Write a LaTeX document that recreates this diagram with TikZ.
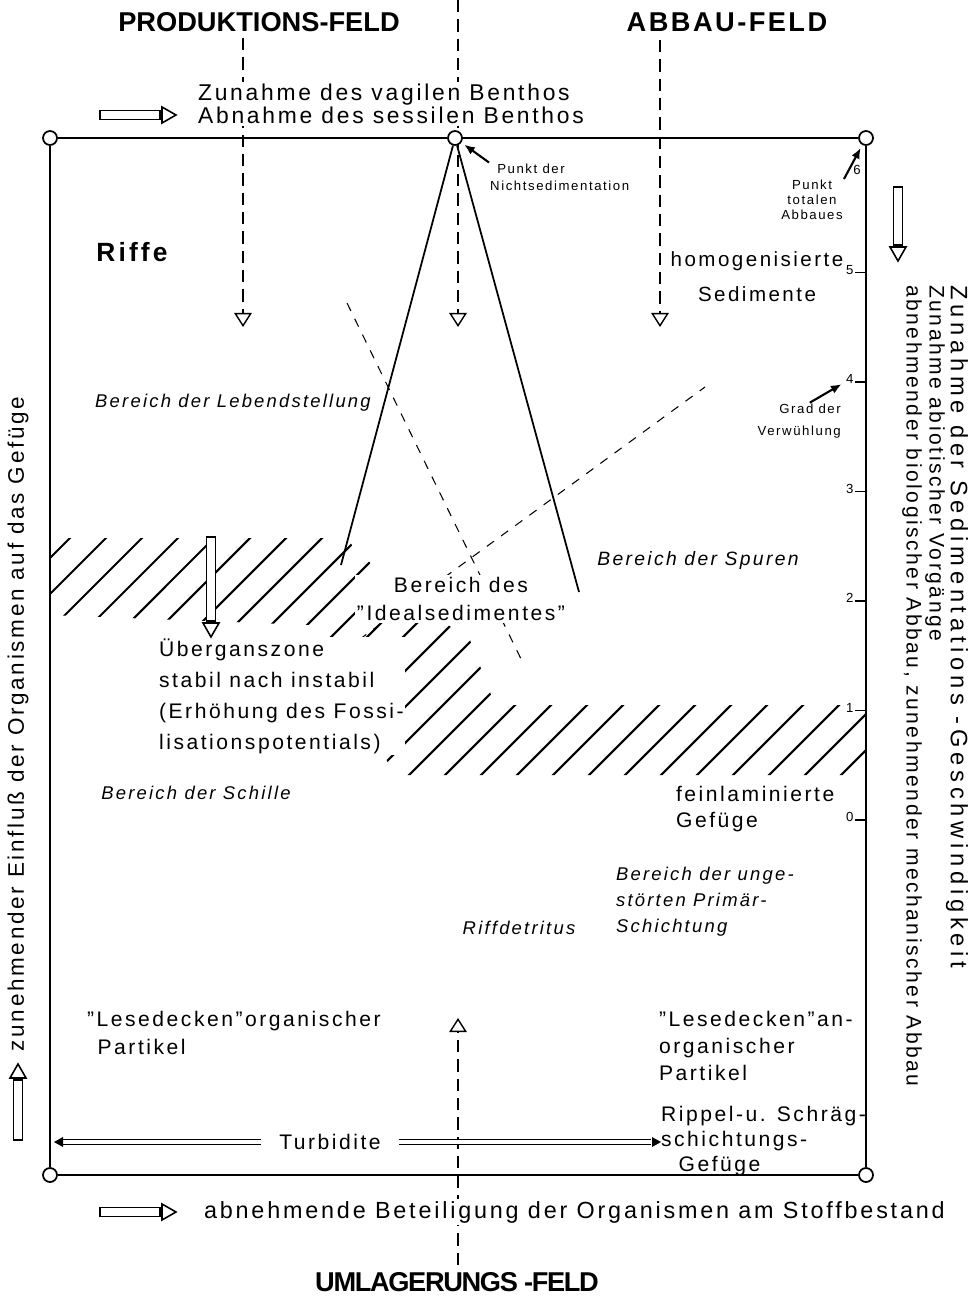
\documentclass[tikz,border=0pt]{standalone}
\usepackage{fontspec}
\setmainfont{Liberation Sans}[LetterSpace=12]
\newfontfamily\headfont{Liberation Sans}
\usetikzlibrary{positioning, arrows.meta}

\begin{document}
\begin{tikzpicture}[x=0.02cm, y=-0.02cm,
    > = {Latex[length=6pt, width=5pt]},
    corner/.style={draw, circle, fill=white, line width=1pt, minimum size=0.28cm, inner sep=0pt},
    frame/.style={line width=1.3pt},
    flow/.style={dash pattern=on 7pt off 4pt, line width=0.8pt,
        -{Triangle[open, length=8pt, width=10pt, line width=0.8pt]}},
    guide/.style={dash pattern=on 5pt off 5pt, line width=0.6pt},
    hatch/.style={line width=1.2pt},
    ptr/.style={line width=1.2pt, ->, shorten >=2pt},
    dbl/.style={double, double distance=2.2pt, line width=0.7pt},
    lbl/.style={font=\fontsize{12}{#1}\selectfont, align=left, fill=white, inner sep=1pt},
    lbl/.default=16,
    itlbl/.style={font=\fontsize{10.5}{#1}\selectfont\itshape, align=left, fill=white, inner sep=1pt},
    itlbl/.default=14.7,
    smalllbl/.style={font=\fontsize{7.5}{#1}\selectfont, align=center, inner sep=0.5pt},
    smalllbl/.default=8.5,
    head/.style={font=\headfont\fontsize{15.5}{18}\selectfont\bfseries\addfontfeatures{LetterSpace=#1}},
    head/.default=0,
    hollow/.pic={
        \draw[fill=white, line width=0.9pt] (0,-4.5) rectangle (#1,4.5);
        \draw[fill=white, line width=0.9pt] (#1+2,-8) -- (#1+16,0) -- (#1+2,8) -- cycle;
    }
]
    \useasboundingbox (0,0) rectangle (974,1301);

    % hatched zone
    \begin{scope}
        \clip (50,538) -- (345,538) -- (400,592) -- (470,640) -- (495,705) -- (866,705)
            -- (866,775) -- (395,775) -- (310,625) -- (50,615) -- cycle;
        \foreach \x in {-300,-264,...,900}
            \draw[hatch] (\x,800) -- ++(300,-300);
    \end{scope}

    % fields
    \coordinate (prodtop) at (243,38);
    \coordinate (prodtip) at (243,327);
    \coordinate (midtop) at (458,0);
    \coordinate (midtip) at (458,327);
    \coordinate (abbtop) at (660,40);
    \coordinate (abbtip) at (660,327);
    \coordinate (umlfoot) at (458,1265);
    \coordinate (umltip) at (458,1018);
    \draw[flow] (prodtop) -- (prodtip);
    \draw[flow] (midtop) -- (midtip);
    \draw[flow] (abbtop) -- (abbtip);
    \draw[flow] (umlfoot) -- (umltip);

    % thin guides
    \coordinate (g1a) at (347,303);
    \coordinate (g1b) at (523,663);
    \coordinate (g2a) at (345,650);
    \coordinate (g2b) at (705,387);
    \draw[guide] (g1a) -- (g1b);
    \draw[guide] (g2a) -- (g2b);

    % headings
    \node[head] (prod) at (259,22) {PRODUKTIONS-FELD};
    \node[head=9] (abbau) at (727,22) {ABBAU-FELD};
    \node[head=-5, fill=white] (umlag) at (457,1282) {UMLAGERUNGS -FELD};

    % texts
    \node[lbl=13, font=\fontsize{13}{13}\selectfont, anchor=west] (benthos) at (196,104) {Zunahme des vagilen Benthos\\Abnahme des sessilen Benthos};
    \node[smalllbl=9.6, align=left, anchor=west] (nichtsed) at (489,177) {\hspace*{4pt}Punkt der\\Nichtsedimentation};
    \node[smalllbl] (totabb) at (812,200) {Punkt\\totalen\\Abbaues};
    \node[smalllbl=12.5, align=right, anchor=east] (grad) at (842,421) {Grad der\\Verwühlung};

    \node[font=\fontsize{15}{18}\selectfont\bfseries] (riffe) at (132,252) {Riffe};
    \node[lbl=19.8, font=\fontsize{11.7}{19.8}\selectfont, align=center] (homog) at (757,277) {homogenisierte\\Sedimente};
    \node[itlbl] (lebend) at (233,403) {Bereich der Lebendstellung};
    \node[itlbl, font=\fontsize{11}{14}\selectfont\itshape] (spuren) at (698,560) {Bereich der Spuren};
    \node[lbl=16.4, align=center] (ideal) at (461,599) {Bereich des\\"Idealsedimentes"};
    \node[lbl=17.6, anchor=west] (ueberg) at (157,696) {Überganszone\\stabil nach instabil\\(Erhöhung des Fossi-\\lisationspotentials)};
    \node[itlbl] (schille) at (196,793) {Bereich der Schille};
    \node[lbl=14.7, anchor=west] (feinlam) at (674,809) {feinlaminierte\\Gefüge};
    \node[itlbl=14.7, anchor=west] (ungest) at (614,902) {Bereich der unge-\\störten Primär-\\Schichtung};
    \node[itlbl] (riffdet) at (519,928) {Riffdetritus};
    \node[lbl=15.9, anchor=west] (lesorg) at (85,1033) {"Lesedecken"organischer\\\hspace*{6pt}Partikel};
    \node[lbl=15.6, anchor=west] (lesanorg) at (657,1046) {"Lesedecken"an-\\organischer\\Partikel};
    \node[lbl=14.2, anchor=west] (rippel) at (659,1141) {Rippel-u. Schräg-\\schichtungs-\\\hspace*{10pt}Gefüge};
    \node[lbl, inner xsep=10pt] (turb) at (330,1142) {Turbidite};

    % outer labels
    \node[lbl, font=\fontsize{13.3}{16}\selectfont, anchor=west] (beteil) at (202,1212) {abnehmende Beteiligung der Organismen am Stoffbestand};
    \node[lbl, font=\fontsize{12.8}{16}\selectfont, rotate=90] (einfluss) at (18,724) {zunehmender Einfluß der Organismen auf das Gefüge};
    \node[lbl, font=\fontsize{13.5}{16}\selectfont\addfontfeatures{LetterSpace=20}, rotate=-90, anchor=west] (rate1) at (957,283) {Zunahme der Sedimentations -Geschwindigkeit};
    \node[lbl, rotate=-90, anchor=west] (rate2) at (935,283) {Zunahme abiotischer Vorgänge};
    \node[lbl, rotate=-90, anchor=west] (rate3) at (912,283) {abnehmender biologischer Abbau, zunehmender mechanischer Abbau};

    % hollow arrows
    \pic at (100,115) {hollow=60};
    \pic at (100,1212) {hollow=60};
    \pic[rotate=90] at (18,1140) {hollow=60};
    \pic[rotate=-90] at (898,187) {hollow=58};
    \pic[rotate=-90] at (211,537) {hollow=84};

    % frame
    \node[corner] (tl) at (50,138) {};
    \node[corner] (tm) at (455,138) {};
    \node[corner] (tr) at (866,138) {};
    \node[corner] (bl) at (50,1175) {};
    \node[corner] (br) at (866,1175) {};
    \draw[frame] (tl) -- (tm) -- (tr) -- (br) -- (bl) -- (tl);

    \coordinate (apexL) at (341,565);
    \coordinate (apexR) at (579,592);
    \draw[line width=1pt] (tm) -- (apexL);
    \draw[line width=1pt] (tm) -- (apexR);

    % scale
    \foreach \v in {0,...,5}
        \draw[line width=0.8pt] (866,{820-109.5*\v}) -- ++(-11,0)
            node[smalllbl, anchor=east, yshift=1.5pt] (t\v) {\v};
    \node[smalllbl] (t6) at (857,170) {6};

    % Turbidite
    \coordinate (turbL) at (62,1142);
    \coordinate (turbR) at (651,1142);
    \draw[dbl] (turbL) -- (turb);
    \draw[dbl] (turb) -- (turbR);
    \fill (54,1142) -- (63,1137) -- (63,1147) -- cycle;
    \fill (661,1142) -- (652,1137) -- (652,1147) -- cycle;

    % pointers
    \draw[ptr] (nichtsed.north west) -- (tm);
    \draw[ptr] (totabb.north east) -- (tr);
    \draw[ptr] (grad.60) -- (t4);
\end{tikzpicture}
\end{document}
